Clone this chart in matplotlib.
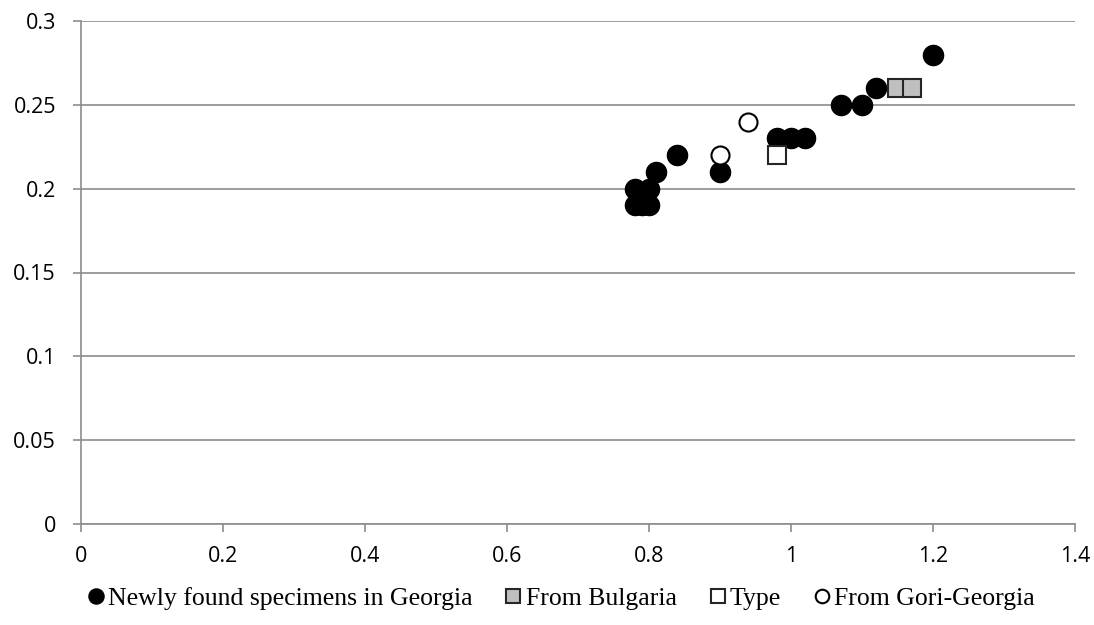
import matplotlib.pyplot as plt
from matplotlib.ticker import MultipleLocator

# data
georgia_x = [0.78, 0.78, 0.79, 0.80, 0.80, 0.81, 0.84, 0.90, 0.98, 1.00, 1.02, 1.07, 1.10, 1.12, 1.20]
georgia_y = [0.20, 0.19, 0.19, 0.19, 0.20, 0.21, 0.22, 0.21, 0.23, 0.23, 0.23, 0.25, 0.25, 0.26, 0.28]
bulgaria_x = [1.15, 1.17]
bulgaria_y = [0.26, 0.26]
type_x = [0.98]
type_y = [0.22]
gori_x = [0.90, 0.94]
gori_y = [0.22, 0.24]

x_ticks = [0, 0.2, 0.4, 0.6, 0.8, 1.0, 1.2, 1.4]
x_labels = ['0', '0.2', '0.4', '0.6', '0.8', '1', '1.2', '1.4']
y_ticks = [0, 0.05, 0.1, 0.15, 0.2, 0.25, 0.3]
y_labels = ['0', '0.05', '0.1', '0.15', '0.2', '0.25', '0.3']

fig = plt.figure(figsize=(10.94, 6.25), dpi=100)
ax = fig.add_axes([0.074, 0.1616, 0.9086, 0.8048])

ax.plot(georgia_x, georgia_y, 'o', ms=14.5, color='black', mec='black',
        label='Newly found specimens in Georgia', zorder=3)
ax.plot(bulgaria_x, bulgaria_y, 's', ms=12.5, mfc='#bfbfbf', mec='#262626', mew=1.5,
        label='From Bulgaria', zorder=3)
ax.plot(type_x, type_y, 's', ms=12.5, mfc='white', mec='#262626', mew=1.5,
        label='Type', zorder=3)
ax.plot(gori_x, gori_y, 'o', ms=13, mfc='white', mec='black', mew=1.5,
        label='From Gori-Georgia', zorder=3)

ax.set_xlim(0, 1.4)
ax.set_ylim(0, 0.3)
ax.set_xticks(x_ticks)
ax.set_xticklabels(x_labels)
ax.set_yticks(y_ticks)
ax.set_yticklabels(y_labels)

ax.yaxis.grid(True, color='#8c8c8c', linewidth=1.2)
ax.set_axisbelow(True)
for side in ['top', 'right']:
    ax.spines[side].set_visible(False)
for side in ['left', 'bottom']:
    ax.spines[side].set_color('#8c8c8c')
    ax.spines[side].set_linewidth(1.2)
ax.tick_params(colors='#8c8c8c', length=6, width=1.2, labelcolor='black',
               labelsize=15.5)
for lbl in ax.get_xticklabels() + ax.get_yticklabels():
    lbl.set_family('Open Sans')
ax.tick_params(axis='x', pad=10)
ax.tick_params(axis='y', pad=12)

fig.legend(loc='center', bbox_to_anchor=(0.512, 0.043), ncol=4, frameon=False,
           prop={'family': 'Liberation Serif', 'size': 18.5},
           handletextpad=0.07, columnspacing=1.2, markerscale=0.75, handlelength=0.8)

plt.savefig('out.png', dpi=100)
